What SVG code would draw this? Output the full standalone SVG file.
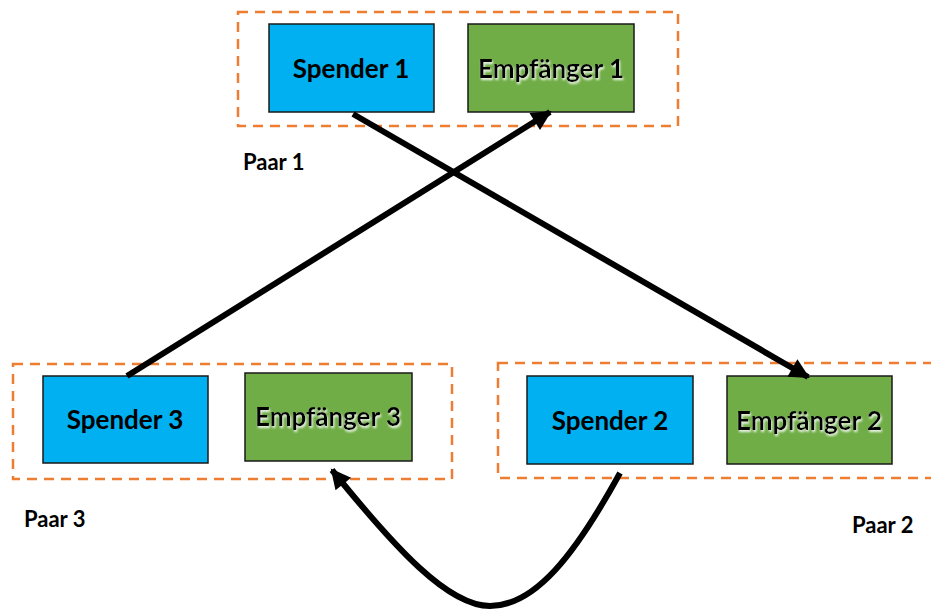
<svg xmlns="http://www.w3.org/2000/svg" width="931" height="610" viewBox="0 0 931 610">
<defs>
<style>
.pair{fill:none;stroke:#ED7D31;stroke-width:2.5;stroke-dasharray:10 7}
.sp{fill:#00B0F0;stroke:#1a1a1a;stroke-width:1.5}
.em{fill:#70AD47;stroke:#1a1a1a;stroke-width:1.5}
.t{font-family:Lato,"Open Sans","Liberation Sans",sans-serif;font-weight:bold;font-size:26px;fill:#000;text-anchor:middle;dominant-baseline:central}
.sh{filter:url(#glow)}
.lbl{font-family:Lato,"Open Sans","Liberation Sans",sans-serif;font-weight:bold;font-size:22px;fill:#000}
.c{fill:none;stroke:#000;stroke-width:6}
</style>
<filter id="glow" x="-10%" y="-30%" width="120%" height="160%">
<feDropShadow dx="1" dy="2" stdDeviation="1" flood-color="#ffffff" flood-opacity="0.9"/>
</filter>
<marker id="ah" viewBox="0 0 10 10" refX="9" refY="5" markerWidth="22" markerHeight="20" markerUnits="userSpaceOnUse" orient="auto">
<path d="M0,0 L10,5 L0,10 z" fill="#000"/>
</marker>
</defs>
<rect width="931" height="610" fill="#fff"/>
<g id="paar1">
<rect class="pair" x="238" y="12" width="440" height="114"/>
<text class="lbl" x="243" y="170">Paar 1</text>
</g>
<g id="paar3">
<rect class="pair" x="13" y="364" width="439" height="115"/>
<text class="lbl" x="24" y="527">Paar 3</text>
</g>
<g id="paar2">
<rect class="pair" x="498" y="363" width="450" height="115"/>
<text class="lbl" x="852" y="533">Paar 2</text>
</g>
<g id="spender1">
<rect class="sp" x="269" y="24" width="165" height="88"/>
<text class="t" x="351" y="68">Spender 1</text>
</g>
<g id="empfaenger1">
<rect class="em" x="468" y="24" width="166" height="88"/>
<text class="t sh" x="551" y="68">Empfänger 1</text>
</g>
<g id="spender3">
<rect class="sp" x="43" y="376" width="165" height="87"/>
<text class="t" x="125" y="419">Spender 3</text>
</g>
<g id="empfaenger3">
<rect class="em" x="245" y="373" width="167" height="88"/>
<text class="t sh" x="328" y="416">Empfänger 3</text>
</g>
<g id="spender2">
<rect class="sp" x="527" y="376" width="166" height="88"/>
<text class="t" x="610" y="420">Spender 2</text>
</g>
<g id="empfaenger2">
<rect class="em" x="727" y="376" width="165" height="88"/>
<text class="t sh" x="809" y="420">Empfänger 2</text>
</g>
<g id="connectors">
<line class="c" x1="353" y1="114" x2="808" y2="377" marker-end="url(#ah)"/>
<line class="c" x1="127" y1="376" x2="550" y2="112" marker-end="url(#ah)"/>
<path class="c" d="M620,473 C575,555 535,606 490,606 C448,606 395,548 332,470" marker-end="url(#ah)"/>
</g>
</svg>
